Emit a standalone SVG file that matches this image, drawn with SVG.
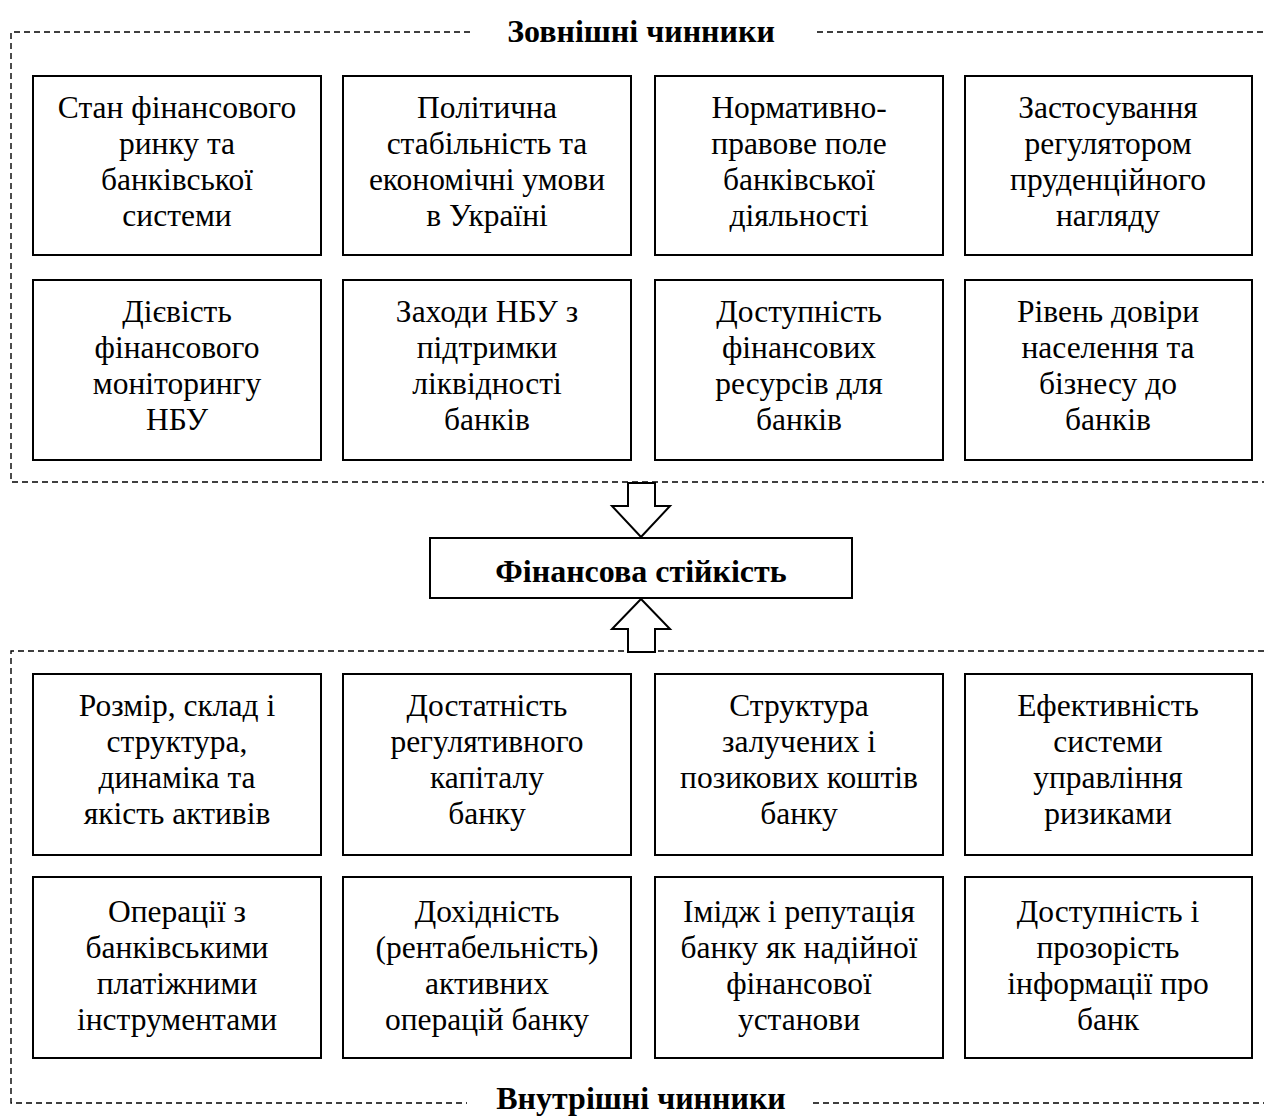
<svg xmlns="http://www.w3.org/2000/svg" width="1264" height="1117" viewBox="0 0 1264 1117">
<style>
.bg{fill:#fff}
.box{fill:#fff;stroke:#000;stroke-width:2}
.dash{fill:none;stroke:#000;stroke-width:1.4;stroke-dasharray:6 4}
.t{font-family:"Liberation Serif","Times New Roman",serif;font-size:31.5px;text-anchor:middle;fill:#000}
.b{font-family:"Liberation Serif","Times New Roman",serif;font-size:32px;font-weight:bold;text-anchor:middle;fill:#000}
.arr{fill:#fff;stroke:#000;stroke-width:2;stroke-linejoin:miter}
</style>
<rect class="bg" x="0" y="0" width="1264" height="1117"/>
<g id="frames">
<path class="dash" d="M470 32 H11 V482 H1264 M817 32 H1264"/>
<path class="dash" d="M1264 651 H11 V1103 H467 M813 1103 H1264"/>
</g>
<g id="connectors">
<polygon class="arr" points="628,483 628,506 612,506 641,537 670,506 655,506 655,483"/>
<polygon class="arr" points="628,652 628,629 612,629 641,599 670,629 655,629 655,652"/>
</g>
<g id="title-top"><text class="b" x="641" y="42">Зовнішні чинники</text></g>
<g id="title-bottom"><text class="b" x="641" y="1109">Внутрішні чинники</text></g>
<g id="center"><rect class="box" x="430" y="538" width="422" height="60"/><text class="b" x="641" y="582">Фінансова стійкість</text></g>

<g id="n1"><rect class="box" x="33" y="76" width="288" height="179"/><text class="t" x="177" y="118">Стан фінансового<tspan x="177" dy="36">ринку та</tspan><tspan x="177" dy="36">банківської</tspan><tspan x="177" dy="36">системи</tspan></text></g>
<g id="n2"><rect class="box" x="343" y="76" width="288" height="179"/><text class="t" x="487" y="118">Політична<tspan x="487" dy="36">стабільність та</tspan><tspan x="487" dy="36">економічні умови</tspan><tspan x="487" dy="36">в Україні</tspan></text></g>
<g id="n3"><rect class="box" x="655" y="76" width="288" height="179"/><text class="t" x="799" y="118">Нормативно-<tspan x="799" dy="36">правове поле</tspan><tspan x="799" dy="36">банківської</tspan><tspan x="799" dy="36">діяльності</tspan></text></g>
<g id="n4"><rect class="box" x="965" y="76" width="287" height="179"/><text class="t" x="1108" y="118">Застосування<tspan x="1108" dy="36">регулятором</tspan><tspan x="1108" dy="36">пруденційного</tspan><tspan x="1108" dy="36">нагляду</tspan></text></g>

<g id="n5"><rect class="box" x="33" y="280" width="288" height="180"/><text class="t" x="177" y="322">Дієвість<tspan x="177" dy="36">фінансового</tspan><tspan x="177" dy="36">моніторингу</tspan><tspan x="177" dy="36">НБУ</tspan></text></g>
<g id="n6"><rect class="box" x="343" y="280" width="288" height="180"/><text class="t" x="487" y="322">Заходи НБУ з<tspan x="487" dy="36">підтримки</tspan><tspan x="487" dy="36">ліквідності</tspan><tspan x="487" dy="36">банків</tspan></text></g>
<g id="n7"><rect class="box" x="655" y="280" width="288" height="180"/><text class="t" x="799" y="322">Доступність<tspan x="799" dy="36">фінансових</tspan><tspan x="799" dy="36">ресурсів для</tspan><tspan x="799" dy="36">банків</tspan></text></g>
<g id="n8"><rect class="box" x="965" y="280" width="287" height="180"/><text class="t" x="1108" y="322">Рівень довіри<tspan x="1108" dy="36">населення та</tspan><tspan x="1108" dy="36">бізнесу до</tspan><tspan x="1108" dy="36">банків</tspan></text></g>

<g id="n9"><rect class="box" x="33" y="674" width="288" height="181"/><text class="t" x="177" y="716">Розмір, склад і<tspan x="177" dy="36">структура,</tspan><tspan x="177" dy="36">динаміка та</tspan><tspan x="177" dy="36">якість активів</tspan></text></g>
<g id="n10"><rect class="box" x="343" y="674" width="288" height="181"/><text class="t" x="487" y="716">Достатність<tspan x="487" dy="36">регулятивного</tspan><tspan x="487" dy="36">капіталу</tspan><tspan x="487" dy="36">банку</tspan></text></g>
<g id="n11"><rect class="box" x="655" y="674" width="288" height="181"/><text class="t" x="799" y="716">Структура<tspan x="799" dy="36">залучених і</tspan><tspan x="799" dy="36">позикових коштів</tspan><tspan x="799" dy="36">банку</tspan></text></g>
<g id="n12"><rect class="box" x="965" y="674" width="287" height="181"/><text class="t" x="1108" y="716">Ефективність<tspan x="1108" dy="36">системи</tspan><tspan x="1108" dy="36">управління</tspan><tspan x="1108" dy="36">ризиками</tspan></text></g>

<g id="n13"><rect class="box" x="33" y="877" width="288" height="181"/><text class="t" x="177" y="922">Операції з<tspan x="177" dy="36">банківськими</tspan><tspan x="177" dy="36">платіжними</tspan><tspan x="177" dy="36">інструментами</tspan></text></g>
<g id="n14"><rect class="box" x="343" y="877" width="288" height="181"/><text class="t" x="487" y="922">Дохідність<tspan x="487" dy="36">(рентабельність)</tspan><tspan x="487" dy="36">активних</tspan><tspan x="487" dy="36">операцій банку</tspan></text></g>
<g id="n15"><rect class="box" x="655" y="877" width="288" height="181"/><text class="t" x="799" y="922">Імідж і репутація<tspan x="799" dy="36">банку як надійної</tspan><tspan x="799" dy="36">фінансової</tspan><tspan x="799" dy="36">установи</tspan></text></g>
<g id="n16"><rect class="box" x="965" y="877" width="287" height="181"/><text class="t" x="1108" y="922">Доступність і<tspan x="1108" dy="36">прозорість</tspan><tspan x="1108" dy="36">інформації про</tspan><tspan x="1108" dy="36">банк</tspan></text></g>
</svg>
